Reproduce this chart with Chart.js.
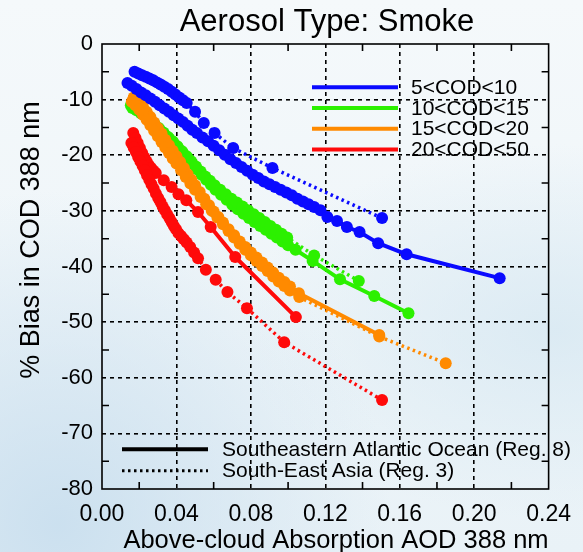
<!DOCTYPE html>
<html><head><meta charset="utf-8">
<script src="https://cdn.jsdelivr.net/npm/chart.js@4"></script>
<style>
html,body{margin:0;padding:0;}
body{width:583px;height:552px;overflow:hidden;
background:
 radial-gradient(ellipse at 10% 95%, rgba(200,222,238,0.9), rgba(200,222,238,0) 45%),
 radial-gradient(ellipse at 95% 60%, rgba(215,232,242,0.8), rgba(215,232,242,0) 40%),
 linear-gradient(#f5f9fb, #e9f2f7);}
canvas{display:block}
</style></head><body>
<canvas id="c" width="583" height="552"></canvas>
<script>
const chartTitle = 'Aerosol Type: Smoke';
const xTitle = 'Above-cloud Absorption AOD 388 nm';
const yTitle = '% Bias in COD 388 nm';
const codLabels = ['5<COD<10', '10<COD<15', '15<COD<20', '20<COD<50'];
const regionLabels = ['Southeastern Atlantic Ocean (Reg. 8)', 'South-East Asia (Reg. 3)'];
const xTickValues = [0, 0.04, 0.08, 0.12, 0.16, 0.20, 0.24];
const yTickValues = [0, -10, -20, -30, -40, -50, -60, -70, -80];
const xMinorTicks = [0.02, 0.06, 0.10, 0.14, 0.18, 0.22];
const yMinorTicks = [-5, -15, -25, -35, -45, -55, -65, -75];

// Reg. 8 (solid) and Reg. 3 (dotted), [AOD, % bias]
const blueReg8 = [[0.0137,-7.0],[0.0160,-7.5],[0.0185,-8.1],[0.0210,-8.7],[0.0235,-9.2],[0.0260,-9.8],[0.0285,-10.4],[0.0310,-11.0],[0.0335,-11.6],[0.0360,-12.2],[0.0385,-12.8],[0.0410,-13.4],[0.0435,-14.0],[0.0460,-14.7],[0.0485,-15.4],[0.0510,-16.0],[0.0540,-16.8],[0.0570,-17.5],[0.0600,-18.3],[0.0630,-19.1],[0.0660,-19.9],[0.0690,-20.7],[0.0720,-21.4],[0.0750,-22.1],[0.0780,-22.8],[0.0810,-23.5],[0.0840,-24.1],[0.0870,-24.7],[0.0900,-25.2],[0.0930,-25.7],[0.0960,-26.2],[0.0990,-26.7],[0.1020,-27.2],[0.1050,-27.8],[0.1080,-28.3],[0.1110,-28.8],[0.1140,-29.3],[0.1174,-29.9],[0.1211,-31.1],[0.1263,-31.8],[0.1316,-32.9],[0.1384,-33.8],[0.1484,-35.8],[0.1637,-37.8],[0.2137,-42.1]];
const blueReg3 = [[0.0175,-5.0],[0.0195,-5.3],[0.0215,-5.6],[0.0235,-5.9],[0.0255,-6.2],[0.0275,-6.5],[0.0295,-6.9],[0.0315,-7.3],[0.0335,-7.7],[0.0355,-8.1],[0.0375,-8.6],[0.0395,-9.1],[0.0415,-9.6],[0.0435,-10.1],[0.0455,-10.6],[0.0500,-12.2],[0.0547,-14.2],[0.0605,-16.0],[0.0705,-18.7],[0.0916,-22.3],[0.1505,-31.3]];
const greenReg8 = [[0.0163,-11.5],[0.0185,-11.9],[0.0210,-12.5],[0.0235,-13.1],[0.0260,-13.8],[0.0285,-14.6],[0.0310,-15.4],[0.0335,-16.2],[0.0360,-17.0],[0.0385,-17.8],[0.0410,-18.7],[0.0435,-19.6],[0.0460,-20.5],[0.0485,-21.5],[0.0510,-22.5],[0.0535,-23.5],[0.0560,-24.4],[0.0585,-25.3],[0.0610,-26.2],[0.0640,-27.1],[0.0670,-28.0],[0.0700,-28.9],[0.0730,-29.7],[0.0760,-30.5],[0.0790,-31.3],[0.0820,-32.0],[0.0850,-32.7],[0.0880,-33.4],[0.0910,-34.1],[0.0940,-34.8],[0.0970,-35.5],[0.1000,-36.2],[0.1040,-37.0],[0.1132,-39.0],[0.1279,-42.3],[0.1463,-45.3],[0.1647,-48.4]];
const greenReg3 = [[0.0155,-11.0],[0.0180,-11.5],[0.0205,-12.1],[0.0230,-12.8],[0.0255,-13.5],[0.0280,-14.3],[0.0305,-15.1],[0.0330,-15.9],[0.0355,-16.7],[0.0380,-17.5],[0.0405,-18.4],[0.0430,-19.3],[0.0455,-20.2],[0.0480,-21.1],[0.0505,-22.0],[0.0530,-22.9],[0.0555,-23.8],[0.0580,-24.6],[0.0605,-25.4],[0.0635,-26.2],[0.0665,-27.0],[0.0695,-27.8],[0.0725,-28.5],[0.0755,-29.2],[0.0785,-29.9],[0.0815,-30.6],[0.0845,-31.3],[0.0875,-32.0],[0.0905,-32.7],[0.0935,-33.4],[0.0965,-34.1],[0.0995,-34.8],[0.1140,-38.0],[0.1380,-42.6]];
const orangeReg8 = [[0.0170,-9.6],[0.0184,-9.9],[0.0200,-10.5],[0.0220,-11.3],[0.0240,-12.2],[0.0260,-13.1],[0.0280,-14.1],[0.0300,-15.1],[0.0320,-16.1],[0.0340,-17.2],[0.0360,-18.2],[0.0380,-19.2],[0.0400,-20.2],[0.0420,-21.2],[0.0440,-22.3],[0.0460,-23.4],[0.0480,-24.4],[0.0500,-25.4],[0.0525,-26.6],[0.0550,-27.8],[0.0575,-29.0],[0.0600,-30.1],[0.0625,-31.1],[0.0650,-32.1],[0.0680,-33.3],[0.0710,-34.4],[0.0740,-35.5],[0.0770,-36.5],[0.0800,-37.5],[0.0830,-38.4],[0.0860,-39.3],[0.0890,-40.2],[0.0920,-41.1],[0.0950,-42.0],[0.0980,-42.8],[0.1010,-43.6],[0.1058,-44.8],[0.1490,-52.3]];
const orangeReg3 = [[0.0160,-10.4],[0.0180,-11.0],[0.0200,-11.8],[0.0220,-12.7],[0.0240,-13.6],[0.0260,-14.6],[0.0280,-15.6],[0.0300,-16.6],[0.0320,-17.6],[0.0340,-18.6],[0.0360,-19.6],[0.0380,-20.6],[0.0400,-21.5],[0.0425,-22.7],[0.0450,-23.9],[0.0475,-25.1],[0.0500,-26.2],[0.0530,-27.5],[0.0560,-28.8],[0.0590,-30.0],[0.0620,-31.2],[0.0650,-32.4],[0.0680,-33.6],[0.0710,-34.8],[0.0740,-35.9],[0.0770,-37.0],[0.0800,-38.0],[0.0830,-39.0],[0.0860,-39.9],[0.0890,-40.8],[0.0920,-41.8],[0.0950,-42.7],[0.0980,-43.5],[0.1010,-44.3],[0.1060,-45.5],[0.1490,-52.6],[0.1847,-57.4]];
const redReg8 = [[0.0168,-16.0],[0.0180,-16.9],[0.0192,-17.8],[0.0204,-18.7],[0.0216,-19.6],[0.0228,-20.4],[0.0240,-21.1],[0.0252,-21.8],[0.0264,-22.3],[0.0277,-22.8],[0.0289,-23.2],[0.0332,-24.5],[0.0374,-25.7],[0.0411,-27.0],[0.0453,-28.1],[0.0516,-30.2],[0.0584,-32.9],[0.0716,-38.3],[0.1042,-49.1]];
const redReg3 = [[0.0158,-17.8],[0.0170,-18.6],[0.0182,-19.4],[0.0194,-20.3],[0.0206,-21.1],[0.0218,-21.9],[0.0230,-22.7],[0.0242,-23.6],[0.0254,-24.4],[0.0266,-25.2],[0.0278,-26.0],[0.0290,-26.9],[0.0302,-27.7],[0.0314,-28.4],[0.0326,-29.2],[0.0338,-29.9],[0.0350,-30.6],[0.0362,-31.3],[0.0374,-32.0],[0.0386,-32.7],[0.0398,-33.3],[0.0411,-34.0],[0.0425,-34.5],[0.0440,-35.1],[0.0455,-35.7],[0.0474,-36.5],[0.0495,-37.5],[0.0516,-38.5],[0.0558,-40.6],[0.0611,-42.4],[0.0674,-44.6],[0.0779,-47.5],[0.0979,-53.6],[0.1505,-64.0]];

const colors = ['#0a0aff', '#2cf000', '#ff8a00', '#ff0a0a'];
const FONT = "'Liberation Sans', Arial, Helvetica, sans-serif";

function ds(points, color, dotted, order) {
  return {
    data: points.map(p => ({x: p[0], y: p[1]})),
    showLine: true,
    borderColor: color,
    backgroundColor: color,
    borderWidth: dotted ? 3.5 : 4,
    borderDash: dotted ? [2.5, 3.5] : [],
    pointRadius: 6,
    pointBorderWidth: 0,
    pointBackgroundColor: color,
    pointHoverRadius: 6,
    order: order
  };
}

const datasets = [
  ds(blueReg3, colors[0], true, 1), ds(blueReg8, colors[0], false, 2),
  ds(orangeReg3, colors[2], true, 3), ds(orangeReg8, colors[2], false, 4),
  ds(greenReg3, colors[1], true, 5), ds(greenReg8, colors[1], false, 6),
  ds(redReg3, colors[3], true, 7), ds(redReg8, colors[3], false, 8)
];

const decor = {
  id: 'decor',
  afterDraw(chart) {
    const ctx = chart.ctx, a = chart.chartArea;
    const xs = chart.scales.x, ys = chart.scales.y;
    ctx.save();
    ctx.strokeStyle = '#000'; ctx.lineWidth = 1.6; ctx.setLineDash([]);
    ctx.strokeRect(a.left, a.top, a.right - a.left, a.bottom - a.top);
    ctx.beginPath();
    xMinorTicks.forEach(v => {
      const px = xs.getPixelForValue(v);
      ctx.moveTo(px, a.bottom); ctx.lineTo(px, a.bottom - 7);
      ctx.moveTo(px, a.top); ctx.lineTo(px, a.top + 7);
    });
    yMinorTicks.forEach(v => {
      const py = ys.getPixelForValue(v);
      ctx.moveTo(a.left, py); ctx.lineTo(a.left + 7, py);
      ctx.moveTo(a.right, py); ctx.lineTo(a.right - 7, py);
    });
    ctx.stroke();

    ctx.fillStyle = '#000';
    ctx.textAlign = 'center'; ctx.textBaseline = 'alphabetic';
    ctx.font = '31px ' + FONT;
    ctx.fillText(chartTitle, 327, 31);
    ctx.font = '25.5px ' + FONT;
    ctx.fillText(xTitle, 336, 548);
    ctx.save();
    ctx.translate(39, 240);
    ctx.rotate(-Math.PI / 2);
    ctx.font = '27px ' + FONT;
    ctx.fillText(yTitle, 0, 0);
    ctx.restore();

    ctx.textAlign = 'left'; ctx.textBaseline = 'middle';
    ctx.font = '21px ' + FONT;
    codLabels.forEach((lab, i) => {
      const y = 87.3 + i * 20.7;
      ctx.strokeStyle = colors[i]; ctx.lineWidth = 4; ctx.setLineDash([]);
      ctx.beginPath(); ctx.moveTo(312, y); ctx.lineTo(398, y); ctx.stroke();
      ctx.fillStyle = '#000';
      ctx.fillText(lab, 411, y + 1);
    });
    regionLabels.forEach((lab, i) => {
      const y = 449.3 + i * 21.4;
      ctx.strokeStyle = '#000';
      ctx.lineWidth = i === 0 ? 4 : 3;
      ctx.setLineDash(i === 0 ? [] : [2.5, 3.5]);
      ctx.beginPath(); ctx.moveTo(122, y); ctx.lineTo(208, y); ctx.stroke();
      ctx.setLineDash([]);
      ctx.fillStyle = '#000';
      ctx.fillText(lab, 222, y + 1);
    });
    ctx.restore();
  }
};

const edgeAware = (vals) => (c) => {
  const v = c.tick ? c.tick.value : null;
  return (v === vals[0] || v === vals[vals.length - 1]) ? 'rgba(0,0,0,0)' : '#000';
};

new Chart(document.getElementById('c'), {
  type: 'scatter',
  data: { datasets },
  options: {
    responsive: false,
    animation: false,
    devicePixelRatio: 1,
    layout: { padding: { left: 0, right: 25, top: 44, bottom: 0 } },
    plugins: { legend: { display: false }, title: { display: false }, tooltip: { enabled: false } },
    scales: {
      x: {
        type: 'linear', min: 0, max: 0.24,
        afterBuildTicks: s => { s.ticks = xTickValues.map(v => ({ value: v })); },
        afterFit: s => { s.height = 63; },
        ticks: { callback: v => Number(v).toFixed(2), font: { size: 23, family: FONT }, color: '#000', padding: 12, maxRotation: 0, autoSkip: false },
        grid: { color: edgeAware([0, 0.24]), lineWidth: 1.6, drawTicks: false },
        border: { display: false, dash: [4, 4] }
      },
      y: {
        type: 'linear', min: -80, max: 0,
        afterBuildTicks: s => { s.ticks = yTickValues.map(v => ({ value: v })); },
        afterFit: s => { s.width = 102; },
        ticks: { callback: v => String(v), font: { size: 22, family: FONT }, color: '#000', padding: 9, autoSkip: false },
        grid: { color: edgeAware([-80, 0]), lineWidth: 1.6, drawTicks: false },
        border: { display: false, dash: [4, 4] }
      }
    }
  },
  plugins: [decor]
});
</script></body></html>
